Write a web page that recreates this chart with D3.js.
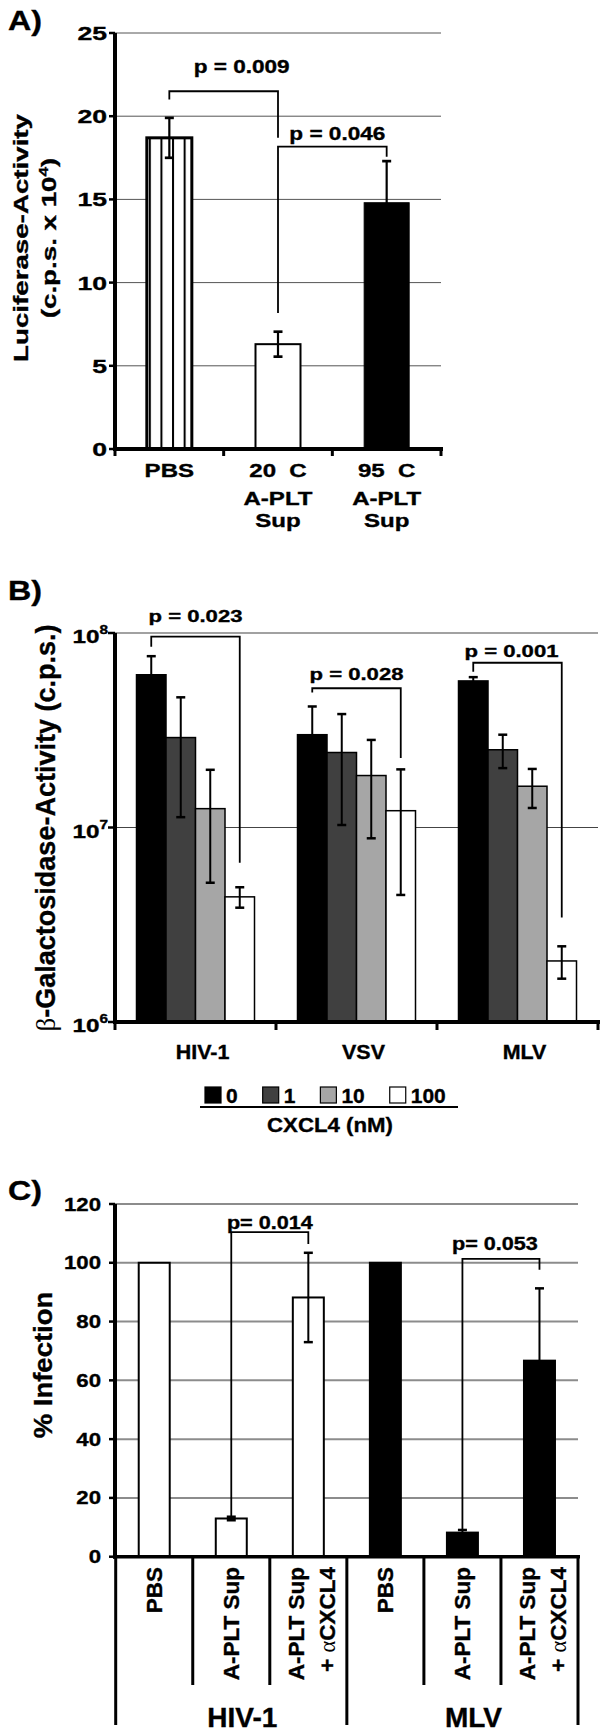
<!DOCTYPE html>
<html><head><meta charset="utf-8">
<script src="https://cdn.jsdelivr.net/npm/d3@7"></script>
<style>
body{margin:0;background:#fff}
text{font-family:"Liberation Sans",Arial,sans-serif;font-weight:bold;fill:#000;stroke:#000;stroke-width:0.35px;white-space:pre}
</style>
</head><body>
<svg id="c" width="600" height="1733"></svg>
<script>
// ---------------- DATA ----------------
// Panel A
const catsA = [["PBS"], ["20  C", "A-PLT", "Sup"], ["95  C", "A-PLT", "Sup"]];
const valuesA = [18.7, 6.3, 14.8];
const errorsA = [1.2, 0.75, 2.5];
const ticksA = [0, 5, 10, 15, 20, 25];
const pLabelsA = ["p = 0.009", "p = 0.046"];

// Panel B
const groupsB = ["HIV-1", "VSV", "MLV"];
const seriesB = ["0", "1", "10", "100"];
const valuesB = [
  [6.1e7, 2.9e7, 1.25e7, 4.4e6],
  [3.0e7, 2.43e7, 1.85e7, 1.22e7],
  [5.67e7, 2.51e7, 1.63e7, 2.06e6]
];
const errorsB = [
  [1.5e7, 1.77e7, 0.73e7, 0.53e6],
  [1.19e7, 1.4e7, 0.97e7, 0.77e7],
  [0.26e7, 0.49e7, 0.37e7, 0.39e6]
];
const tickExpB = [6, 7, 8];
const pLabelsB = ["p = 0.023", "p = 0.028", "p = 0.001"];

// Panel C
const groupsC = ["HIV-1", "MLV"];
const catsC = [["PBS"], ["A-PLT Sup"], ["A-PLT Sup", "+ \u03B1CXCL4"]];
const valuesC = [[100, 13, 88.2], [100, 8.2, 66.7]];
const errorsC = [[0, 0.6, 15.2], [0, 0.9, 24.6]];
const ticksC = [0, 20, 40, 60, 80, 100, 120];
const pLabelsC = ["p= 0.014", "p= 0.053"];

// ---------------- HELPERS ----------------
const svg = d3.select("#c");
svg.append("rect").attr("width", 600).attr("height", 1733).attr("fill", "#fff");

function txt(g, x, y, s, o = {}) {
  const t = g.append("text")
    .attr("transform", `translate(${x},${y}) rotate(${o.rot || 0}) scale(${o.sx || 1},1)`)
    .attr("text-anchor", o.anchor || "middle")
    .style("font-size", (o.size || 18) + "px");
  if (typeof s === "function") s(t); else t.text(s);
  return t;
}
function line(g, x1, y1, x2, y2, w, c) {
  return g.append("line").attr("x1", x1).attr("y1", y1).attr("x2", x2).attr("y2", y2)
    .attr("stroke", c || "#000").attr("stroke-width", w || 1);
}
function errBar(g, cx, yTop, yBot, cap, w) {
  line(g, cx, yTop, cx, yBot, w);
  line(g, cx - cap / 2, yTop, cx + cap / 2, yTop, w + 0.5);
  line(g, cx - cap / 2, yBot, cx + cap / 2, yBot, w + 0.5);
}
function bracket(g, xa, xb, yLevel, yA, yB, w) {
  g.append("path")
    .attr("d", `M${xa},${yA}V${yLevel}H${xb}V${yB}`)
    .attr("fill", "none").attr("stroke", "#000").attr("stroke-width", w || 1.6);
}
function serif(t, s) {
  t.append("tspan").style("font-family", "'Liberation Serif',serif")
    .style("font-weight", "normal").style("stroke-width", "0px").text(s);
}

// ---------------- PANEL A ----------------
const gA = svg.append("g");
const xA = d3.scaleBand().domain(d3.range(catsA.length)).range([115, 441]);
const yA = d3.scaleLinear().domain([0, 25]).range([449, 33]);
const bwA = 45;

const defs = svg.append("defs");
const pat = defs.append("pattern").attr("id", "stripes").attr("patternUnits", "userSpaceOnUse")
  .attr("x", xA(0) + (xA.bandwidth() - bwA) / 2 + 2).attr("y", 0).attr("width", 11.6).attr("height", 10);
pat.append("rect").attr("width", 11.6).attr("height", 10).attr("fill", "#fff");
pat.append("rect").attr("x", 0).attr("width", 2).attr("height", 10).attr("fill", "#000");

ticksA.filter(t => t > 0).forEach(t => line(gA, 115, yA(t), 441, yA(t), 1, "#555"));

const fillA = ["url(#stripes)", "#fff", "#000"];
const strokeWA = [3, 2, 1];
valuesA.forEach((v, i) => {
  const x0 = xA(i) + (xA.bandwidth() - bwA) / 2;
  gA.append("rect").attr("x", x0).attr("y", yA(v)).attr("width", bwA).attr("height", yA(0) - yA(v))
    .attr("fill", fillA[i]).attr("stroke", "#000").attr("stroke-width", strokeWA[i]);
  errBar(gA, x0 + bwA / 2, yA(v + errorsA[i]), yA(v - errorsA[i]), 9, 2.2);
});

// axes A
line(gA, 115, yA(25), 115, yA(0) + 2, 4);
ticksA.forEach(t => line(gA, 109, yA(t), 115, yA(t), 2.5));
line(gA, 113, yA(0), 443, yA(0), 4);
d3.range(catsA.length + 1).forEach(i => {
  const xx = i < catsA.length ? xA(i) : xA.range()[1];
  line(gA, xx, yA(0), xx, yA(0) + 7, 3);
});
ticksA.forEach(t => txt(gA, 107, yA(t) + 7, String(t), {anchor: "end", size: 19, sx: 1.4}));
const baseA = [477, 505, 527];
catsA.forEach((ls, i) => ls.forEach((s, k) =>
  txt(gA, xA(i) + xA.bandwidth() / 2, baseA[k], s, {size: 18.5, sx: 1.3})));

txt(gA, 8, 30, "A)", {anchor: "start", size: 28, sx: 1.15});
txt(gA, 28, 238, "Luciferase-Activity", {rot: -90, size: 21, sx: 1.32});
txt(gA, 56, 238, t => {
  t.append("tspan").text("(c.p.s. x 10");
  t.append("tspan").attr("dy", -8).style("font-size", "13px").text("4");
  t.append("tspan").attr("dy", 8).text(")");
}, {rot: -90, size: 21, sx: 1.32});

// significance A
const sigA = [
  {a: 0, b: 1, level: 21.5, legA: 21.0, legB: 18.7, tl: 22.6, dx: 18},
  {a: 1, b: 2, level: 18.17, legA: 8.17, legB: 17.57, tl: 18.57, dx: 5}
];
sigA.forEach((s, k) => {
  const xa = xA(s.a) + xA.bandwidth() / 2, xb = xA(s.b) + xA.bandwidth() / 2;
  bracket(gA, xa, xb, yA(s.level), yA(s.legA), yA(s.legB), 1.8);
  txt(gA, (xa + xb) / 2 + s.dx, yA(s.tl), pLabelsA[k], {size: 18.5, sx: 1.22});
});

// ---------------- PANEL B ----------------
const gB = svg.append("g");
const xB = d3.scaleBand().domain(groupsB).range([115, 598]);
const xBi = d3.scaleBand().domain(seriesB).range([0, 118]);
const yB = d3.scaleLog().domain([1e6, 1e8]).range([1022, 633]);
const colorsB = ["#000", "#404040", "#a6a6a6", "#fff"];

[7, 8].forEach(e => line(gB, 115, yB(Math.pow(10, e)), 598, yB(Math.pow(10, e)), 1.2, "#444"));

groupsB.forEach((g, gi) => {
  const off = xB(g) + xB.bandwidth() / 2 - 59;
  seriesB.forEach((s, si) => {
    const v = valuesB[gi][si], e = errorsB[gi][si];
    const x0 = off + xBi(s);
    gB.append("rect").attr("x", x0).attr("y", yB(v)).attr("width", xBi.bandwidth())
      .attr("height", yB(1e6) - yB(v)).attr("fill", colorsB[si]).attr("stroke", "#000").attr("stroke-width", 1.5);
    errBar(gB, x0 + xBi.bandwidth() / 2, yB(v + e), yB(v - e), 9, 2);
  });
  txt(gB, xB(g) + xB.bandwidth() / 2 + 7, 1059, g, {size: 19.5, sx: 1.1});
});

line(gB, 115, 633, 115, 1024, 4);
tickExpB.forEach(e => {
  const yy = yB(Math.pow(10, e));
  line(gB, 108, yy, 115, yy, 2.5);
  txt(gB, 108, yy + 10, t => {
    t.append("tspan").text("10");
    t.append("tspan").attr("dy", -9).style("font-size", "12px").text(String(e));
  }, {anchor: "end", size: 19, sx: 1.28});
});
line(gB, 113, 1022, 600, 1022, 4);
groupsB.concat([null]).forEach((g, i) => {
  const xx = g ? xB(g) : xB.range()[1];
  line(gB, xx, 1022, xx, 1030, 3);
});

txt(gB, 8, 600, "B)", {anchor: "start", size: 28, sx: 1.15});
txt(gB, 55, 828, t => {
  serif(t, "\u03B2");
  t.append("tspan").text("-Galactosidase-Activity (c.p.s.)");
}, {rot: -90, size: 27, sx: 1.0});

const sigB = [
  {g: 0, level: 9.57e7, legA: 8.5e7, legB: 6.59e6, tl: 1.143e8, dx: 0},
  {g: 1, level: 5.2e7, legA: 4.95e7, legB: 2.28e7, tl: 5.73e7, dx: 0},
  {g: 2, level: 7.03e7, legA: 6.32e7, legB: 3.45e6, tl: 7.53e7, dx: -6}
];
sigB.forEach((s, k) => {
  const off = xB(groupsB[s.g]) + xB.bandwidth() / 2 - 59;
  const xa = off + xBi(seriesB[0]) + xBi.bandwidth() / 2;
  const xb = off + xBi(seriesB[3]) + xBi.bandwidth() / 2;
  bracket(gB, xa, xb, yB(s.level), yB(s.legA), yB(s.legB), 1.8);
  txt(gB, (xa + xb) / 2 + s.dx, yB(s.tl), pLabelsB[k], {size: 17, sx: 1.3});
});

// legend
const gL = svg.append("g");
let cx = 205;
seriesB.forEach((s, i) => {
  gL.append("rect").attr("x", cx).attr("y", 1087).attr("width", 16).attr("height", 16)
    .attr("fill", colorsB[i]).attr("stroke", "#000").attr("stroke-width", 1.2);
  const t = txt(gL, cx + 21, 1103, s, {anchor: "start", size: 21});
  cx += 21 + t.node().getComputedTextLength() + 25;
});
line(gL, 200, 1107, 458, 1107, 2);
txt(gL, 330, 1132, "CXCL4 (nM)", {size: 21, sx: 1.06});

// ---------------- PANEL C ----------------
const gC = svg.append("g");
const idxC = d3.range(groupsC.length * catsC.length);
const xC = d3.scaleBand().domain(idxC).range([115.7, 578]);
const yC = d3.scaleLinear().domain([0, 120]).range([1556.7, 1204]);
const bwC = 31;
const fillC = ["#fff", "#000"];

ticksC.filter(t => t > 0).forEach(t => line(gC, 115, yC(t), 578, yC(t), 2, "#8c8c8c"));

groupsC.forEach((g, gi) => {
  catsC.forEach((c, ci) => {
    const i = gi * catsC.length + ci;
    const center = xC(i) + xC.bandwidth() / 2;
    const v = valuesC[gi][ci], e = errorsC[gi][ci];
    gC.append("rect").attr("x", center - bwC / 2).attr("y", yC(v)).attr("width", bwC)
      .attr("height", yC(0) - yC(v)).attr("fill", fillC[gi]).attr("stroke", "#000").attr("stroke-width", 2);
    if (e > 0) errBar(gC, center, yC(v + e), yC(v - e), 9, 2);
    if (c.length === 1) {
      txt(gC, center + 8, 1567, c[0], {rot: -90, anchor: "end", size: 22.5});
    } else {
      txt(gC, center - 4.5, 1567, c[0], {rot: -90, anchor: "end", size: 22.5});
      txt(gC, center + 27, 1567, t => {
        t.append("tspan").text("+ ");
        serif(t, "\u03B1");
        t.append("tspan").text("CXCL4");
      }, {rot: -90, anchor: "end", size: 22.5});
    }
  });
  const gx0 = xC(gi * catsC.length), gx1 = gx0 + xC.bandwidth() * catsC.length;
  txt(gC, (gx0 + gx1) / 2 + 11, 1727, g, {size: 28});
});

line(gC, 115, yC(120), 115, yC(0) + 2, 4);
ticksC.forEach(t => {
  line(gC, 109, yC(t), 115, yC(t), 2.5);
  txt(gC, 101, yC(t) + 6.5, String(t), {anchor: "end", size: 18.5, sx: 1.2});
});
line(gC, 113, yC(0), 580, yC(0), 3.5);
d3.range(idxC.length + 1).forEach(i => {
  const xx = i < idxC.length ? xC(i) : xC.range()[1];
  const long = i % catsC.length === 0;
  line(gC, xx, yC(0), xx, long ? 1725 : 1685, 3);
});

txt(gC, 8, 1200, "C)", {anchor: "start", size: 28, sx: 1.15});
txt(gC, 52, 1365, "% Infection", {rot: -90, size: 25, sx: 1.1});

const sigC = [
  {g: 0, a: 1, b: 2, level: 110.4, legA: 13.6, legB: 106.4, tl: 111.4, dx: 0},
  {g: 1, a: 1, b: 2, level: 101.3, legA: 9.1, legB: 97.6, tl: 104.4, dx: -6}
];
sigC.forEach((s, k) => {
  const xa = xC(s.g * catsC.length + s.a) + xC.bandwidth() / 2;
  const xb = xC(s.g * catsC.length + s.b) + xC.bandwidth() / 2;
  bracket(gC, xa, xb, yC(s.level), yC(s.legA), yC(s.legB), 1.8);
  txt(gC, (xa + xb) / 2 + s.dx, yC(s.tl), pLabelsC[k], {size: 18, sx: 1.2});
});
</script>
</body></html>
